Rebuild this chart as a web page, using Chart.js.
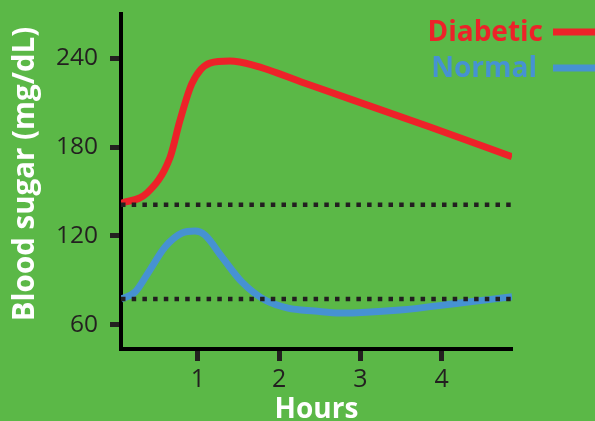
<!DOCTYPE html>
<html><head><meta charset="utf-8">
<script src="https://cdn.jsdelivr.net/npm/chart.js@4.4.0/dist/chart.umd.min.js"></script>
<style>html,body{margin:0;padding:0;background:#5bb847;overflow:hidden}canvas{display:block}</style>
</head><body>
<canvas id="c" width="595" height="421"></canvas>
<script>
// ---- data ----
const seriesLabels = ['Diabetic', 'Normal'];
const diabeticHours  = [0.055, 0.375, 0.658, 0.781, 0.929, 1.15, 1.396, 1.679, 2.38, 3.856, 4.865];
const diabeticValues = [142, 149, 173, 198, 223, 236.6, 238, 235.3, 221.8, 193.5, 173.5];
const normalHours    = [0.055, 0.228, 0.387, 0.597, 0.806, 0.966, 1.089, 1.298, 1.544, 1.827, 2.11, 2.44, 2.75, 3.487, 4.225, 4.865];
const normalValues   = [77.5, 82.2, 95, 112.6, 122, 123.3, 120.6, 105.8, 88.9, 76.8, 71.4, 69.4, 68, 70.1, 74.8, 79];
const referenceLevels = [141, 77.5];
const xRange = [0.055, 4.865];
const yRange = [43.8, 269.7];
const xTickValues = [1, 2, 3, 4];
const yTickValues = [60, 120, 180, 240];
const xTitle = 'Hours';
const yTitle = 'Blood sugar (mg/dL)';

const RED = '#ed2229', BLUE = '#4692d2', DARK = '#231f20', GREEN = '#5bb847';
const FONT = '"Open Sans", "Noto Sans", sans-serif';

const toPts = (xs, ys) => xs.map((x, i) => ({x, y: ys[i]}));

const datasets = [];
referenceLevels.forEach(v => datasets.push({
  label: 'ref', data: toPts(xRange, [v, v]),
  borderColor: DARK, borderWidth: 4.5, borderDash: [4.5, 6.2], borderCapStyle: 'butt',
  pointRadius: 0, order: 0, isRef: true
}));
datasets.push({
  label: seriesLabels[0], data: toPts(diabeticHours, diabeticValues),
  borderColor: RED, borderWidth: 7, cubicInterpolationMode: 'monotone', borderCapStyle: 'butt',
  pointRadius: 0, order: 1
});
datasets.push({
  label: seriesLabels[1], data: toPts(normalHours, normalValues),
  borderColor: BLUE, borderWidth: 7, cubicInterpolationMode: 'monotone', borderCapStyle: 'butt',
  pointRadius: 0, order: 2
});

const legendPlugin = {
  id: 'customLegend',
  afterDraw(chart) {
    const ctx = chart.ctx;
    const items = chart.data.datasets.filter(d => !d.isRef);
    const pos = [{tx: 543, ty: 41, ly: 32}, {tx: 537, ty: 77, ly: 68}];
    ctx.save();
    ctx.font = 'bold 28px ' + FONT;
    ctx.textAlign = 'right';
    ctx.textBaseline = 'alphabetic';
    items.forEach((d, i) => {
      const p = pos[i];
      ctx.fillStyle = d.borderColor;
      ctx.fillText(d.label, p.tx, p.ty);
      ctx.strokeStyle = d.borderColor;
      ctx.lineWidth = 7;
      ctx.beginPath(); ctx.moveTo(553, p.ly); ctx.lineTo(595, p.ly); ctx.stroke();
    });
    // y-axis title
    ctx.translate(33.5, 174);
    ctx.rotate(-Math.PI / 2);
    ctx.font = 'bold 29.5px ' + FONT;
    ctx.fillStyle = '#ffffff';
    ctx.textAlign = 'center';
    ctx.textBaseline = 'alphabetic';
    ctx.fillText(yTitle, 0, 0);
    ctx.restore();
  }
};

const bgPlugin = {
  id: 'bg',
  beforeDraw(chart) {
    const ctx = chart.ctx;
    ctx.save(); ctx.fillStyle = GREEN; ctx.fillRect(0, 0, chart.width, chart.height); ctx.restore();
  }
};

new Chart(document.getElementById('c'), {
  type: 'line',
  data: { datasets },
  plugins: [bgPlugin, legendPlugin],
  options: {
    responsive: false, animation: false, devicePixelRatio: 1,
    layout: { padding: { top: 14, right: 83, left: 0, bottom: 0 } },
    plugins: { legend: { display: false }, tooltip: { enabled: false } },
    scales: {
      x: {
        type: 'linear', min: xRange[0], max: xRange[1],
        afterBuildTicks: s => { s.ticks = xTickValues.map(v => ({value: v})); },
        afterFit: s => { s.height = 72; s.paddingLeft = 0; s.paddingRight = 0; },
        border: { display: true, color: '#000', width: 4 },
        grid: { drawOnChartArea: false, drawTicks: true, tickLength: 12, tickWidth: 5, tickColor: DARK, color: DARK },
        ticks: { color: DARK, font: { family: FONT, size: 25 }, padding: 4, maxRotation: 0, autoSkip: false },
        title: { display: true, text: xTitle, color: '#ffffff', font: { family: FONT, size: 28, weight: 'bold' }, padding: { top: 0, bottom: -6 } }
      },
      y: {
        type: 'linear', min: yRange[0], max: yRange[1],
        afterBuildTicks: s => { s.ticks = yTickValues.map(v => ({value: v})); },
        afterFit: s => { s.width = 121; s.paddingTop = 0; s.paddingBottom = 0; },
        border: { display: true, color: '#000', width: 4 },
        grid: { drawOnChartArea: false, drawTicks: true, tickLength: 11, tickWidth: 5, tickColor: DARK, color: DARK },
        ticks: { color: DARK, font: { family: FONT, size: 24.5 }, padding: 12, autoSkip: false },
        title: { display: false }
      }
    }
  }
});
</script>
</body></html>
